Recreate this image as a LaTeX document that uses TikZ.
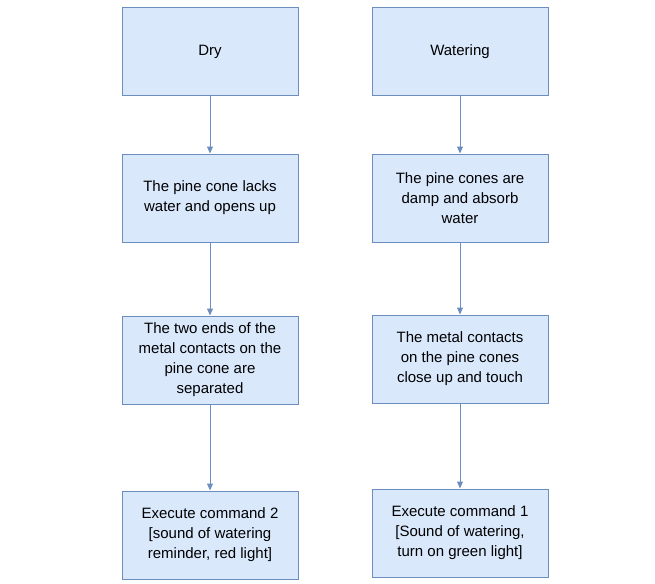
\documentclass[tikz,border=0pt]{standalone}
\usepackage{fontspec}
\setmainfont{Liberation Sans}
\usetikzlibrary{arrows.meta,positioning}
\definecolor{boxfill}{HTML}{DAE8FC}
\definecolor{boxline}{HTML}{6C8EBF}
\tikzset{
  every node/.append style={font=\fontsize{15}{20}\selectfont},
}
\begin{document}
\begin{tikzpicture}[
  x=1pt, y=-1pt,
  stage/.style={draw=boxline, fill=boxfill, line width=1pt, minimum width=176pt, minimum height=88pt, align=center, inner sep=2pt},
  arr/.style={-{Triangle[length=7pt,width=6pt]}, draw=boxline, fill=boxline, line width=1pt}
]
\useasboundingbox (0,0) rectangle (655,583);

% Left column: dry
\node[stage] (dry) at (210,52) {Dry};
\node[stage] (opens) at (210,198) {The pine cone lacks\\water and opens up};
\node[stage] (apart) at (210,360) {The two ends of the\\metal contacts on the\\pine cone are\\separated};
\node[stage] (cmdtwo) at (210,535) {Execute command 2\\{[sound of watering}\\reminder, red light]};

% Right column: watering
\node[stage] (wet) at (460,52) {Watering};
\node[stage] (absorb) at (460,198) {The pine cones are\\damp and absorb\\water};
\node[stage] (touch) at (460,359) {The metal contacts\\on the pine cones\\close up and touch};
\node[stage] (cmdone) at (460,533) {Execute command 1\\{[Sound of watering,}\\turn on green light]};

% Connectors
\draw[arr] (dry) -- (opens);
\draw[arr] (opens) -- (apart);
\draw[arr] (apart) -- (cmdtwo);
\draw[arr] (wet) -- (absorb);
\draw[arr] (absorb) -- (touch);
\draw[arr] (touch) -- (cmdone);
\end{tikzpicture}
\end{document}
